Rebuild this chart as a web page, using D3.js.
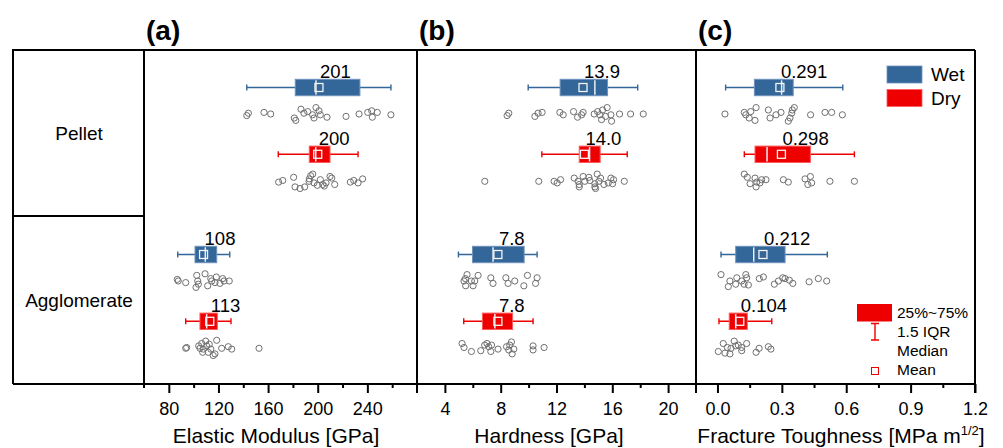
<!DOCTYPE html>
<html>
<head>
<meta charset="utf-8">
<script src="https://cdn.jsdelivr.net/npm/d3@7"></script>
<style>
body{margin:0;background:#fff;}
svg text{font-family:"Liberation Sans",Arial,sans-serif;fill:#000;}
</style>
</head>
<body>
<div id="chart"></div>
<script>
// ---- data ----
var groups=["Pellet","Agglomerate"];
var conditions=["Wet","Dry"];
// box order: Pellet-Wet, Pellet-Dry, Agglomerate-Wet, Agglomerate-Dry
// [whiskerLo, q1, median, mean, q3, whiskerHi]
var modulusBoxes=[[142.8,181.9,198.6,201,234,259],[168.2,193.2,198.4,200,209.9,232.5],[87.2,101.1,109.4,108,118.6,129.1],[93.6,105.1,110.5,113,119.1,130.1]];
var modulusLabels=["201","200","108","113"];
var hardnessBoxes=[[9.97,12.26,14.75,13.9,15.66,17.82],[10.95,13.63,14.37,14.0,15.13,17.07],[4.97,5.98,7.45,7.8,9.68,10.61],[5.35,6.69,7.58,7.8,8.85,10.32]];
var hardnessLabels=["13.9","14.0","7.8","7.8"];
var toughnessBoxes=[[0.038,0.172,0.299,0.291,0.353,0.584],[0.125,0.175,0.231,0.298,0.433,0.638],[0.0165,0.085,0.169,0.212,0.315,0.512],[0.007,0.055,0.085,0.104,0.139,0.253]];
var toughnessLabels=["0.291","0.298","0.212","0.104"];

// individual measurements: [value, jitter(-1..1)]
var modulusPoints=[
 [[142.8,.2],[144.1,-.1],[156.7,-.2],[162.1,0],[181.1,.5],[182.3,.8],[186.5,-.6],[188.9,-.1],[191.9,-.3],[195.9,.1],[198.6,-.8],[197,.5],[201,-.4],[202.1,.1],[207.5,.4],[222.8,.3],[233.3,0],[240.3,-.2],[243.5,-.4],[244,.4],[248,-.2],[259,.1]],
 [[168.5,.2],[171.8,0],[180.6,-.4],[181.7,.8],[185.7,1],[189.5,.8],[193.2,-.2],[194.3,-.6],[196,-.8],[193,.1],[197,.3],[199.7,.6],[202.1,-.1],[204,.5],[205.3,.7],[206.7,.3],[209.9,-.5],[211.3,-.3],[213.7,.5],[226.3,.2],[229,0],[232.5,.3],[236.2,-.2]],
 [[86.8,-.2],[87.6,0],[93.6,.2],[101.9,.8],[102.5,-.7],[103.3,0],[103.8,.4],[109.2,-.9],[111.3,.6],[113.8,-.3],[114.6,0],[117.2,.2],[118.3,-.5],[121.2,.3],[123.4,-.3],[124.5,0],[128.7,0]],
 [[93.6,.1],[94.4,0],[104.1,-.2],[105.1,.1],[106.5,-.5],[107.3,.6],[107.8,.2],[109.7,-.8],[110.5,-.2],[111.8,.6],[112.6,-.4],[113.8,.2],[115.8,1],[117.2,.8],[118.6,-.9],[122.6,.1],[127.9,-.1],[130.7,.2],[152.7,.1]]
];
var hardnessPoints=[
 [[8.46,.2],[8.58,-.1],[10.45,.3],[10.68,-.1],[10.97,-.2],[12.24,-.2],[12.48,.1],[13.22,-.3],[13.51,.4],[13.80,.1],[13.91,-.2],[14.70,0],[14.95,-.3],[15.11,.1],[15.23,.7],[15.30,-.5],[15.52,.3],[15.63,-.8],[15.90,.1],[15.95,.9],[16.52,0],[17.31,0],[18.22,0]],
 [[6.86,.1],[10.73,.1],[11.83,.1],[12.05,.3],[12.29,-.1],[13.27,-.3],[13.55,.1],[13.63,.5],[13.63,.8],[13.91,-.5],[14.03,.1],[14.32,-.4],[14.39,0],[14.75,.4],[14.75,.8],[14.80,1],[14.92,-.8],[15.04,.1],[15.16,-.3],[15.40,.5],[15.71,.3],[15.90,-.3],[16.02,.4],[16.09,-.1],[16.86,.1]],
 [[5.37,0],[5.47,-.3],[5.59,-.8],[5.49,.6],[5.90,0],[6.02,.6],[6.14,0],[6.38,-.7],[7.29,-.4],[7.45,.3],[8.37,-.4],[8.53,.3],[9.01,0],[9.66,.6],[9.92,-.7],[10.50,.3],[10.61,-.4]],
 [[5.23,-.5],[5.37,0],[5.90,.5],[6.57,.4],[6.85,-.3],[7.02,-.5],[7.14,-.1],[7.29,.5],[7.34,-.3],[7.81,.2],[8.42,-.1],[8.58,.3],[8.65,-.3],[8.77,-.7],[8.82,.8],[8.94,.2],[10.32,-.2],[10.32,.3],[11.11,0]]
];
var toughnessPoints=[
 [[0.035,0],[0.125,-.2],[0.132,.1],[0.148,.5],[0.155,-.3],[0.175,.8],[0.180,-.8],[0.237,-.5],[0.245,.5],[0.273,.1],[0.296,-.2],[0.330,.9],[0.338,.5],[0.346,-.1],[0.349,-.5],[0.358,-.8],[0.434,.1],[0.501,-.2],[0.532,-.2],[0.582,.1]],
 [[0.125,-.8],[0.139,-.4],[0.152,.4],[0.175,-.3],[0.180,.8],[0.183,.2],[0.198,.3],[0.206,-.1],[0.226,-.1],[0.307,-.1],[0.330,.2],[0.408,-.2],[0.421,.5],[0.433,-.5],[0.439,.3],[0.524,.1],[0.638,.1]],
 [[0.0165,-.8],[0.0505,.7],[0.058,0],[0.085,.4],[0.090,-.4],[0.113,0],[0.124,.4],[0.132,-.8],[0.136,-.4],[0.144,.5],[0.195,-.3],[0.214,-.5],[0.265,.4],[0.284,0],[0.304,-.4],[0.315,-.3],[0.335,-.1],[0.351,.3],[0.427,.1],[0.470,-.3],[0.509,0]],
 [[0.004,.5],[0.027,-.5],[0.035,.7],[0.046,0],[0.058,.8],[0.063,.1],[0.078,-.8],[0.085,-.2],[0.097,-.3],[0.113,.4],[0.113,0],[0.136,-.5],[0.180,.6],[0.194,.1],[0.237,-.1],[0.249,.2]]
];

var panels=[
 {id:"(a)",boxes:modulusBoxes,labels:modulusLabels,points:modulusPoints,domain:[60,280],
  major:[80,120,160,200,240],minor:[100,140,180,220,260],fmt:d3.format("d"),title:"Elastic Modulus [GPa]"},
 {id:"(b)",boxes:hardnessBoxes,labels:hardnessLabels,points:hardnessPoints,domain:[2,22],
  major:[4,8,12,16,20],minor:[6,10,14,18],fmt:d3.format("d"),title:"Hardness [GPa]"},
 {id:"(c)",boxes:toughnessBoxes,labels:toughnessLabels,points:toughnessPoints,domain:[-0.1,1.2],
  major:[0,0.3,0.6,0.9,1.2],minor:[0.15,0.45,0.75,1.05],fmt:d3.format(".1f"),title:"Fracture Toughness [MPa m",sup:"1/2"}
];

// ---- layout ----
var W=1003,H=448;
var plotTop=50,plotBot=384,frameL=13;
var edges=[144,417,696,975];
var fill={Wet:"#336699",Dry:"#ee0000"};
var edge={Wet:"#6f93bd",Dry:"#ff5a5a"};
var boxH=16.4;
var boxOff={Wet:37.5,Dry:104.3};
var dotOff={Wet:64,Dry:130.5};

var svg=d3.select("#chart").append("svg").attr("width",W).attr("height",H);

var yBand=d3.scaleBand().domain(groups).range([plotTop,plotBot]);
var jit=d3.scaleLinear().domain([-1,1]).range([-8,8]);

// row labels
var g_rows=svg.append("g");
g_rows.selectAll("text").data(groups).enter().append("text")
	.attr("x",79).attr("y",function(d){return yBand(d)+yBand.bandwidth()/2+6;})
	.attr("text-anchor","middle").style("font-size","19px")
	.text(function(d){return d;});

panels.forEach(function(p,pi){
	var x0=edges[pi],x1=edges[pi+1];
	var x=d3.scaleLinear().domain(p.domain).range([x0,x1]);
	var g=svg.append("g");

	// box rows
	p.boxes.forEach(function(b,bi){
		var grp=groups[Math.floor(bi/2)],cond=conditions[bi%2];
		var cy=yBand(grp)+boxOff[cond];
		var col=fill[cond];
		// whiskers
		g.append("line").attr("x1",x(b[0])).attr("x2",x(b[5])).attr("y1",cy).attr("y2",cy)
			.attr("stroke",col).attr("stroke-width",1.4);
		[b[0],b[5]].forEach(function(v){
			g.append("line").attr("x1",x(v)).attr("x2",x(v)).attr("y1",cy-3).attr("y2",cy+3)
				.attr("stroke",col).attr("stroke-width",1.4);
		});
		// box
		g.append("rect").attr("x",x(b[1])).attr("y",cy-boxH/2)
			.attr("width",x(b[4])-x(b[1])).attr("height",boxH)
			.attr("fill",col).attr("stroke",edge[cond]).attr("stroke-width",1);
		// median
		g.append("line").attr("x1",x(b[2])).attr("x2",x(b[2])).attr("y1",cy-boxH/2+1).attr("y2",cy+boxH/2-1)
			.attr("stroke","#e8eef5").attr("stroke-width",1.5);
		// mean
		g.append("rect").attr("x",x(b[3])-4).attr("y",cy-4).attr("width",8).attr("height",8)
			.attr("fill","none").attr("stroke","#f4f4f4").attr("stroke-width",1.3);
		// value label
		g.append("text").attr("x",x(b[3])+1).attr("y",cy-boxH/2-1.5)
			.style("font-size","18.5px").text(p.labels[bi]);
		// data points
		var dy=yBand(grp)+dotOff[cond];
		g.selectAll(null).data(p.points[bi]).enter().append("circle")
			.attr("cx",function(d){return x(d[0]);})
			.attr("cy",function(d){return dy+jit(d[1]);})
			.attr("r",3.1).attr("fill","none").attr("stroke","#707070").attr("stroke-width",1);
	});

	// axis
	var ax=svg.append("g").attr("transform","translate(0,"+plotBot+")");
	ax.call(d3.axisBottom(x).tickValues(p.major).tickSize(9).tickPadding(9).tickFormat(p.fmt));
	ax.append("g").call(d3.axisBottom(x).tickValues(p.minor).tickSize(4).tickFormat(""));
	ax.selectAll(".domain").remove();
	ax.selectAll("line").attr("stroke","#000").attr("stroke-width",2);
	ax.selectAll("text").style("font-size","18px").attr("fill","#000")
		.style("font-family","'Liberation Sans',Arial,sans-serif");

	// axis title
	var centers=[276,549,841];
	var t=svg.append("text").attr("x",centers[pi]).attr("y",443).attr("text-anchor","middle")
		.style("font-size","21px").text(p.title);
	if(p.sup){
		t.append("tspan").attr("dy",-8).style("font-size","13px").text(p.sup);
		t.append("tspan").attr("dy",8).text("]");
	}

	// panel letter
	svg.append("text").attr("x",x0+2).attr("y",40).style("font-size","28px").style("font-weight","bold").text(p.id);
});

// legend: conditions
var leg=svg.append("g");
conditions.forEach(function(c,i){
	leg.append("rect").attr("x",887).attr("y",66+i*23.5).attr("width",35).attr("height",17)
		.attr("fill",fill[c]).attr("stroke",edge[c]).attr("stroke-width",0.8);
	leg.append("text").attr("x",931).attr("y",81+i*23.5).style("font-size","19px").text(c);
});
// legend: box parts
var legItems=["25%~75%","1.5 IQR","Median","Mean"];
leg.selectAll(".bx").data(legItems).enter().append("text")
	.attr("x",897).attr("y",function(d,i){return 318+i*19;})
	.style("font-size","15.5px").text(function(d){return d;});
leg.append("rect").attr("x",857).attr("y",304).attr("width",35).attr("height",17.5).attr("fill",fill.Dry);
leg.append("path").attr("d","M871,323.5H879M875,323.5V340M871,340H879")
	.attr("stroke",fill.Dry).attr("stroke-width",1.4).attr("fill","none");
leg.append("rect").attr("x",871.5).attr("y",367.5).attr("width",7).attr("height",7)
	.attr("fill","none").attr("stroke",fill.Dry).attr("stroke-width",1);

// frame
var fr=svg.append("g").attr("stroke","#000").attr("stroke-width",2).attr("fill","none");
fr.append("path").attr("d","M"+frameL+","+plotBot+"V"+plotTop+"H"+edges[3]);
fr.append("line").attr("x1",frameL).attr("x2",edges[3]).attr("y1",plotBot).attr("y2",plotBot);
fr.append("line").attr("x1",frameL).attr("x2",edges[0]).attr("y1",yBand("Agglomerate")-1).attr("y2",yBand("Agglomerate")-1);
edges.forEach(function(e,i){
	fr.append("line").attr("x1",e).attr("x2",e).attr("y1",plotTop).attr("y2",i==0?plotBot+4:plotBot+9);
});
</script>
</body>
</html>
